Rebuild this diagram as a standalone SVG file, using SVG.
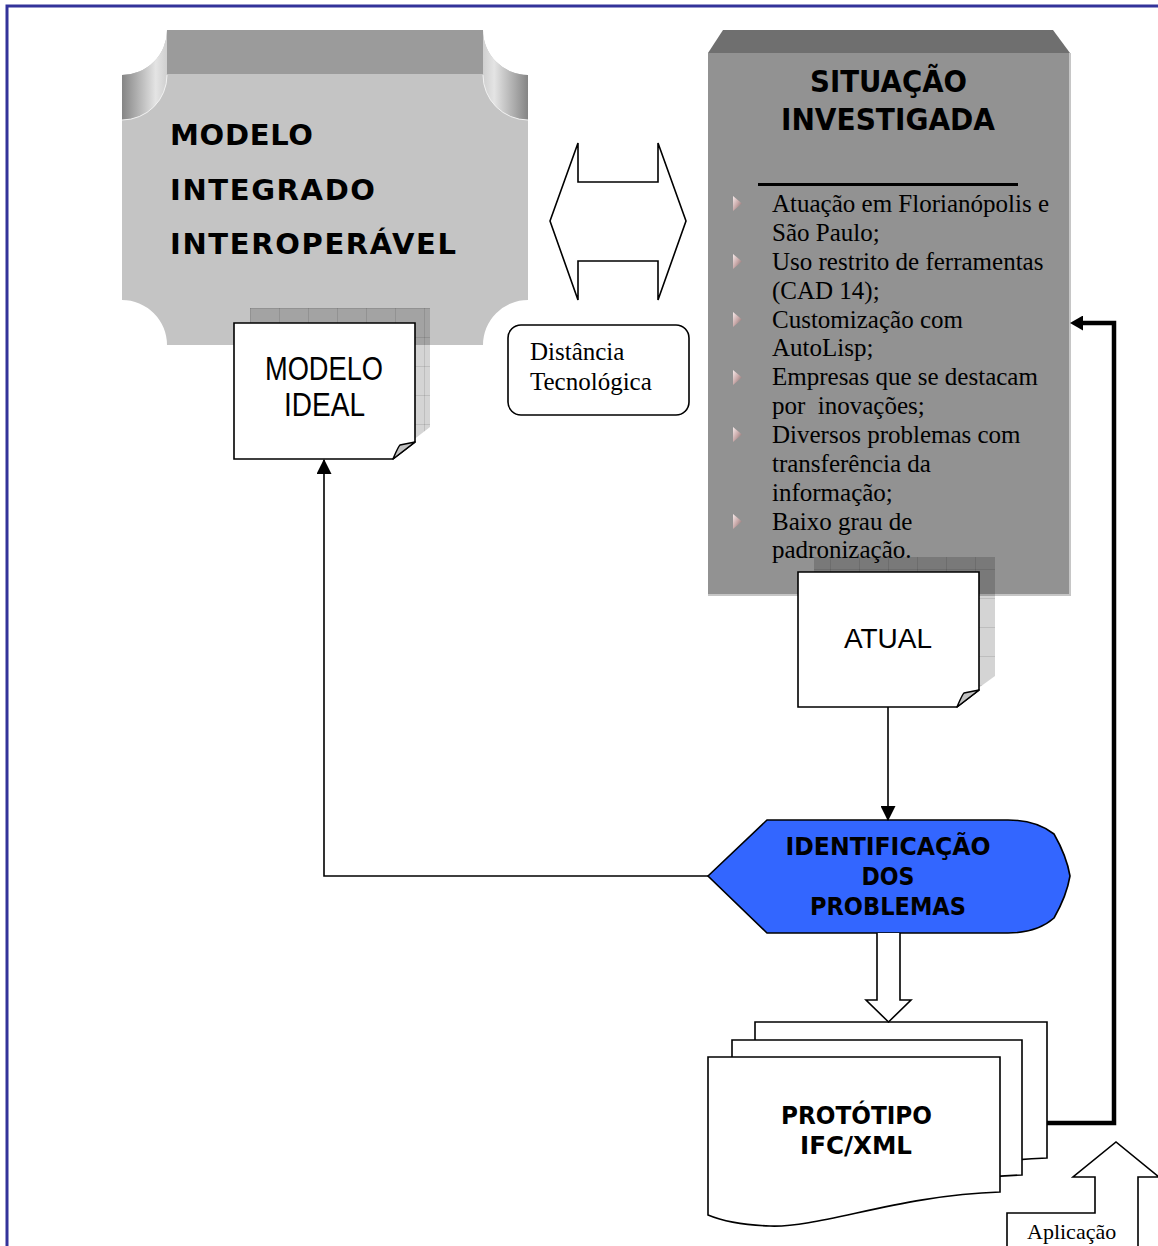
<svg xmlns="http://www.w3.org/2000/svg" width="1158" height="1246" viewBox="0 0 1158 1246">
  <style>
    .serif { font-family: "Liberation Serif", "Times New Roman", serif; fill: #000; }
    .sans { font-family: "Liberation Sans", Arial, sans-serif; fill: #000; }
    .bold { font-family: "DejaVu Sans", Tahoma, sans-serif; font-weight: bold; fill: #000; }
    .wide { font-family: "DejaVu Sans", Verdana, sans-serif; font-weight: bold; fill: #000; }
    .outline { fill: #fff; stroke: #000; stroke-width: 1.6; stroke-linejoin: miter; }
    .wire { fill: none; stroke: #000; stroke-width: 1.6; }
    .heavy { fill: none; stroke: #000; stroke-width: 4.5; }
    .fold { fill: #c2c2c2; stroke: #000; stroke-width: 1.4; stroke-linejoin: round; }
    .shadow { fill: url(#grid); }
    .bullet { fill: url(#bul); }
  </style>
  <defs>
    <pattern id="grid" patternUnits="userSpaceOnUse" width="29" height="29" x="250" y="308">
      <rect width="29" height="29" fill="#000" fill-opacity="0.17"/>
      <path d="M0,0.5 H29 M0.5,0 V29" stroke="#000" stroke-opacity="0.10" stroke-width="1"/>
    </pattern>
    <linearGradient id="curlL" x1="0" y1="0" x2="1" y2="0">
      <stop offset="0" stop-color="#858585"/>
      <stop offset="0.75" stop-color="#e4e4e4"/>
      <stop offset="1" stop-color="#cfcfcf"/>
    </linearGradient>
    <linearGradient id="curlR" x1="0" y1="0" x2="1" y2="0">
      <stop offset="0" stop-color="#cfcfcf"/>
      <stop offset="0.25" stop-color="#e4e4e4"/>
      <stop offset="1" stop-color="#858585"/>
    </linearGradient>
    <linearGradient id="bul" x1="0" y1="0" x2="1" y2="1">
      <stop offset="0" stop-color="#f8ecec"/>
      <stop offset="0.5" stop-color="#c9a9a9"/>
      <stop offset="1" stop-color="#6e6262"/>
    </linearGradient>
    <marker id="tip" markerUnits="userSpaceOnUse" markerWidth="15" markerHeight="15" viewBox="0 0 14 14" refX="13" refY="7" orient="auto">
      <path d="M0,0 L14,7 L0,14 Z" fill="#000"/>
    </marker>
    <marker id="tipHeavy" markerUnits="userSpaceOnUse" markerWidth="13" markerHeight="15" viewBox="0 0 13 15" refX="2" refY="7.5" orient="auto">
      <path d="M0,0 L13,7.5 L0,15 Z" fill="#000"/>
    </marker>
  </defs>

  <rect width="1158" height="1246" fill="#fff"/>
  <!-- page frame -->
  <path d="M7,1246 V6 H1158" fill="none" stroke="#33339a" stroke-width="3"/>

  <!-- plaque: integrated interoperable model -->
  <g id="modelo-integrado">
    <path d="M167,30 H483 A45,45 0 0 0 528,75 V300 A45,45 0 0 0 483,345 H167 A45,45 0 0 0 122,300 V75 A45,45 0 0 0 167,30 Z" fill="#c4c4c4"/>
    <rect x="167" y="30" width="316" height="44" fill="#9b9b9b"/>
    <path d="M122,75 A45,45 0 0 0 167,30 V75 A45,45 0 0 1 122,120 Z" fill="url(#curlL)"/>
    <path d="M528,75 A45,45 0 0 1 483,30 V75 A45,45 0 0 0 528,120 Z" fill="url(#curlR)"/>
    <path d="M167,75 A45,45 0 0 1 122,120" fill="none" stroke="#f2f2f2" stroke-width="1"/>
    <path d="M483,75 A45,45 0 0 0 528,120" fill="none" stroke="#f2f2f2" stroke-width="1"/>
    <text class="wide" x="170" y="145" font-size="29" textLength="143">MODELO</text>
    <text class="wide" x="170" y="200" font-size="29" textLength="205">INTEGRADO</text>
    <text class="wide" x="170" y="254" font-size="29" textLength="286">INTEROPERÁVEL</text>
  </g>

  <!-- note: ideal model -->
  <g id="modelo-ideal">
    <path class="shadow" d="M250,308 H430 V427 L408,444 H250 Z"/>
    <path class="outline" d="M234,323 H415 V442 L393,459 H234 Z"/>
    <path class="fold" d="M415,442 L393,459 C396,452 398,447 400,445 C405,444 410,443 415,442 Z"/>
    <text class="sans" x="324" y="380" font-size="33" text-anchor="middle" textLength="118" lengthAdjust="spacingAndGlyphs">MODELO</text>
    <text class="sans" x="324.5" y="416" font-size="33" text-anchor="middle" textLength="81" lengthAdjust="spacingAndGlyphs">IDEAL</text>
  </g>

  <!-- label: technological distance -->
  <g id="distancia">
    <rect x="508" y="325" width="181" height="90" rx="13" ry="13" class="outline"/>
    <text class="serif" x="530" y="360" font-size="25">Distância</text>
    <text class="serif" x="530" y="390" font-size="25">Tecnológica</text>
  </g>

  <!-- panel: investigated situation -->
  <g id="situacao">
    <path d="M723,30 H1053 L1070,53 H708 Z" fill="#6f6f6f"/>
    <rect x="708" y="53" width="362" height="542" fill="#929292"/>
    <path d="M1070,53 V595 H708" fill="none" stroke="#c6c6c6" stroke-width="2"/>
    <text class="bold" x="888.5" y="92" font-size="30" text-anchor="middle" textLength="157" lengthAdjust="spacingAndGlyphs">SITUAÇÃO</text>
    <text class="bold" x="888" y="130" font-size="30" text-anchor="middle" textLength="214" lengthAdjust="spacingAndGlyphs">INVESTIGADA</text>
    <rect x="758" y="183" width="260" height="3" fill="#000"/>
    <g class="serif" font-size="25">
      <text x="772" y="212">Atuação em Florianópolis e</text>
      <text x="772" y="241">São Paulo;</text>
      <text x="772" y="270">Uso restrito de ferramentas</text>
      <text x="772" y="299">(CAD 14);</text>
      <text x="772" y="328">Customização com</text>
      <text x="772" y="356">AutoLisp;</text>
      <text x="772" y="385">Empresas que se destacam</text>
      <text x="772" y="414" xml:space="preserve">por  inovações;</text>
      <text x="772" y="443">Diversos problemas com</text>
      <text x="772" y="472">transferência da</text>
      <text x="772" y="501">informação;</text>
      <text x="772" y="530">Baixo grau de</text>
      <text x="772" y="558">padronização.</text>
    </g>
    <polygon class="bullet" points="733,196 742,203.5 733,211"/>
    <polygon class="bullet" points="733,254 742,261.5 733,269"/>
    <polygon class="bullet" points="733,312 742,319.5 733,327"/>
    <polygon class="bullet" points="733,370 742,377.5 733,385"/>
    <polygon class="bullet" points="733,427 742,434.5 733,442"/>
    <polygon class="bullet" points="733,514 742,521.5 733,529"/>
  </g>

  <!-- note: current state -->
  <g id="atual">
    <path class="shadow" d="M814,557 H995 V676 L973,692 H814 Z"/>
    <path class="outline" d="M798,572 H979 V690 L957,707 H798 Z"/>
    <path class="fold" d="M979,690 L957,707 C960,700 962,695 964,693 C969,692 974,691 979,690 Z"/>
    <text class="sans" x="888" y="648" font-size="28" text-anchor="middle">ATUAL</text>
  </g>

  <!-- display shape: problem identification -->
  <g id="identificacao">
    <path d="M708,876 L767,820 H1008 C1030,820 1045,827 1054,834 C1062,848 1068,864 1070,876 C1068,888 1062,904 1054,918 C1045,926 1030,933 1008,933 H767 Z" fill="#3366ff" stroke="#000" stroke-width="1.6"/>
    <text class="bold" x="888" y="855" font-size="24" text-anchor="middle" textLength="205" lengthAdjust="spacingAndGlyphs">IDENTIFICAÇÃO</text>
    <text class="bold" x="888" y="885" font-size="24" text-anchor="middle" textLength="53" lengthAdjust="spacingAndGlyphs">DOS</text>
    <text class="bold" x="888" y="915" font-size="24" text-anchor="middle" textLength="156" lengthAdjust="spacingAndGlyphs">PROBLEMAS</text>
  </g>

  <!-- multi-document: IFC/XML prototype -->
  <g id="prototipo">
    <path class="outline" d="M755,1022 H1047 V1158 C947,1161 867,1194 817,1192 C787,1191 767,1186 755,1181 Z"/>
    <path class="outline" d="M732,1040 H1022 V1175 C922,1178 842,1211 792,1209 C762,1208 744,1203 732,1198 Z"/>
    <path class="outline" d="M708,1057 H1000 V1192 C900,1195 820,1228 770,1226 C740,1225 720,1220 708,1215 Z"/>
    <text class="bold" x="856.5" y="1124" font-size="25" text-anchor="middle" textLength="151" lengthAdjust="spacingAndGlyphs">PROTÓTIPO</text>
    <text class="bold" x="856" y="1154" font-size="25" text-anchor="middle" textLength="112" lengthAdjust="spacingAndGlyphs">IFC/XML</text>
  </g>

  <!-- application callout arrow -->
  <g id="aplicacao">
    <path class="outline" d="M1007,1247 V1213 H1095 V1177 H1073 L1116,1142 L1159,1177 H1138 V1247"/>
    <text class="serif" x="1027" y="1239" font-size="22">Aplicação</text>
  </g>

  <!-- connectors -->
  <g id="connectors">
    <path class="outline" stroke-width="2" d="M550,221 L578,143 V182 H658 V143 L686,221 L658,300 V261 H578 V300 Z"/>
    <path class="wire" d="M708,876 H324 V460" marker-end="url(#tip)"/>
    <path class="wire" d="M888,707 V820" marker-end="url(#tip)"/>
    <path class="outline" d="M877,933 V1000 H866 L888.5,1022 L911,1000 H900 V933"/>
    <path class="heavy" d="M1047,1123 H1114 V323 H1081" marker-end="url(#tipHeavy)"/>
  </g>
</svg>
